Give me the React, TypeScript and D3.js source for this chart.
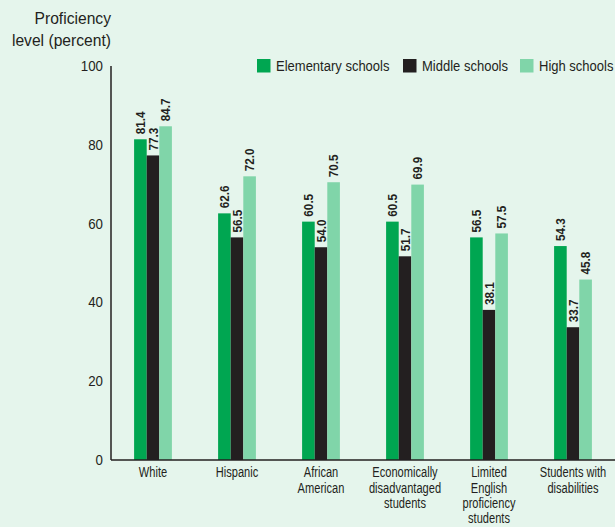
import React, { useEffect, useRef } from "react";
import * as d3 from "d3";

const categories: string[][] = [
  ["White"],
  ["Hispanic"],
  ["African", "American"],
  ["Economically", "disadvantaged", "students"],
  ["Limited", "English", "proficiency", "students"],
  ["Students with", "disabilities"],
];
const seriesNames = ["Elementary schools", "Middle schools", "High schools"];
const elementary = [81.4, 62.6, 60.5, 60.5, 56.5, 54.3];
const middle = [77.3, 56.5, 54.0, 51.7, 38.1, 33.7];
const high = [84.7, 72.0, 70.5, 69.9, 57.5, 45.8];
const yTicks = [0, 20, 40, 60, 80, 100];
const colors = ["#00a651", "#231f20", "#80d5a9"];

const W = 615;
const H = 527;
const FONT = "'Liberation Sans', Arial, sans-serif";

export default function App() {
  const ref = useRef<SVGSVGElement>(null);

  useEffect(() => {
    const svg = d3.select(ref.current);
    svg.selectAll("*").remove();

    svg.append("rect").attr("width", W).attr("height", H).attr("fill", "#e5f5ec");

    const left = 111;
    const right = 615;
    const y = d3.scaleLinear().domain([0, 100]).range([460, 66]);
    const keys = categories.map((_, i) => String(i));
    const x0 = d3.scaleBand().domain(keys).range([left, right]).paddingInner(0).paddingOuter(0);
    const barW = 12.6;
    const x1 = d3
      .scaleBand()
      .domain(seriesNames)
      .range([-barW * 1.5, barW * 1.5]);

    // title
    const title = svg
      .append("text")
      .attr("text-anchor", "end")
      .attr("font-family", FONT)
      .attr("font-size", 17)
      .attr("fill", "#231f20")
      .attr("transform", "translate(111,0) scale(0.92,1)");
    title.append("tspan").attr("x", 0).attr("y", 24).text("Proficiency");
    title.append("tspan").attr("x", 0).attr("y", 46).text("level (percent)");

    // y tick labels
    svg
      .append("g")
      .selectAll("text")
      .data(yTicks)
      .join("text")
      .attr("transform", (d) => `translate(103,${y(d) + 5}) scale(0.95,1)`)
      .attr("text-anchor", "end")
      .attr("font-family", FONT)
      .attr("font-size", 14)
      .attr("fill", "#231f20")
      .text((d) => String(d));

    const all = [elementary, middle, high];

    const groups = svg
      .append("g")
      .selectAll("g")
      .data(keys)
      .join("g")
      .attr("transform", (k) => `translate(${x0(k)! + x0.bandwidth() / 2},0)`);

    groups.each(function (k) {
      const gi = +k;
      const g = d3.select(this);
      seriesNames.forEach((s, si) => {
        const v = all[si][gi];
        g.append("rect")
          .attr("x", x1(s)!)
          .attr("y", y(v))
          .attr("width", x1.bandwidth())
          .attr("height", y(0) - y(v))
          .attr("fill", colors[si]);
        const cx = x1(s)! + x1.bandwidth() / 2;
        g.append("text")
          .attr("transform", `translate(${cx + 4.5},${y(v) - 5}) rotate(-90) scale(0.9,1)`)
          .attr("font-family", FONT)
          .attr("font-weight", "bold")
          .attr("font-size", 13)
          .attr("fill", "#231f20")
          .text(v.toFixed(1));
      });
      const t = g
        .append("text")
        .attr("text-anchor", "middle")
        .attr("font-family", FONT)
        .attr("font-size", 14.6)
        .attr("fill", "#231f20")
        .attr("transform", "scale(0.76,1)");
      categories[gi].forEach((line, li) => {
        t.append("tspan").attr("x", 0).attr("y", 477.5 + li * 15.3).text(line);
      });
    });

    // axes lines
    svg
      .append("line")
      .attr("x1", left)
      .attr("x2", left)
      .attr("y1", y(100))
      .attr("y2", y(0))
      .attr("stroke", "#231f20")
      .attr("stroke-width", 1.5);
    svg
      .append("line")
      .attr("x1", left)
      .attr("x2", right)
      .attr("y1", y(0))
      .attr("y2", y(0))
      .attr("stroke", "#231f20")
      .attr("stroke-width", 1.5);

    // legend
    const legendX = [257, 403, 520];
    const lg = svg.append("g");
    seriesNames.forEach((s, i) => {
      lg.append("rect")
        .attr("x", legendX[i])
        .attr("y", 59)
        .attr("width", 13.5)
        .attr("height", 13.5)
        .attr("fill", colors[i]);
      lg.append("text")
        .attr("transform", `translate(${legendX[i] + 19},71) scale(0.84,1)`)
        .attr("font-family", FONT)
        .attr("font-size", 15.5)
        .attr("fill", "#231f20")
        .text(s);
    });
  }, []);

  return (
    <svg
      ref={ref}
      width={W}
      height={H}
      style={{ position: "absolute", left: 0, top: 0, display: "block" }}
    />
  );
}
